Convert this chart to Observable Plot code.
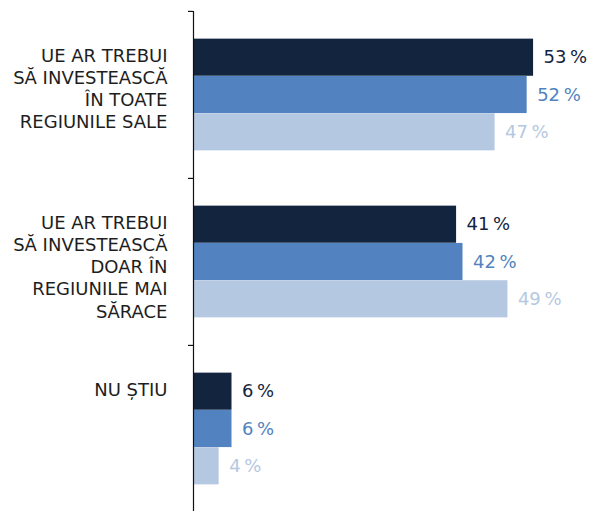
<!DOCTYPE html>
<html>
<head>
<meta charset="utf-8">
<script src="https://cdn.jsdelivr.net/npm/d3@7"></script>
<script src="https://cdn.jsdelivr.net/npm/@observablehq/plot@0.6"></script>
<style>
  html, body { margin: 0; padding: 0; background: #fff; }
  #chart svg { display: block; }
</style>
</head>
<body>
<div id="chart"></div>
<script>
const categories = [
  "UE AR TREBUI\nSĂ INVESTEASCĂ\nÎN TOATE\nREGIUNILE SALE",
  "UE AR TREBUI\nSĂ INVESTEASCĂ\nDOAR ÎN\nREGIUNILE MAI\nSĂRACE",
  "NU ȘTIU"
];
const series = ["Seria 1", "Seria 2", "Seria 3"];
const valuesSeries1 = [53, 41, 6];
const valuesSeries2 = [52, 42, 6];
const valuesSeries3 = [47, 49, 4];
const colors = ["#13243e", "#5283c0", "#b5c8e1"];

const allValues = [valuesSeries1, valuesSeries2, valuesSeries3];
const data = [];
series.forEach((s, si) => categories.forEach((c, ci) => data.push({series: s, si, category: c, value: allValues[si][ci]})));

const W = 600, H = 511, mTop = 11, mLeft = 193, mRight = 22;
const yEnd = 512.5;
const band = (yEnd - mTop) / categories.length;
const barH = 37.3;
const inset = (band - barH) / 2;
const font = "'DejaVu Sans', sans-serif";

const marks = [];
series.forEach((s, si) => {
  const sub = data.filter(d => d.si === si);
  const off = (si - 1) * barH;
  marks.push(Plot.barX(sub, {x: "value", y: "category", fill: colors[si], insetTop: inset + off, insetBottom: inset - off}));
  marks.push(Plot.text(sub, {x: "value", y: "category", dy: off, dx: 10, textAnchor: "start", text: d => d.value + "\u2009%", fill: colors[si], fontSize: 18, fontWeight: 400}));
});
marks.push(Plot.ruleX([0], {stroke: "#111", strokeWidth: 1.2}));
marks.push(Plot.ruleY(categories, {y: d => d, x1: 0, x2: 0, insetLeft: -5, dy: -band / 2, stroke: "#111", strokeWidth: 1.2}));
marks.push(Plot.text(categories, {y: d => d, x: 0, text: d => d, dx: -26, dy: -49, textAnchor: "end", lineAnchor: "top", lineHeight: 1.235, fontSize: 18, fontWeight: 400, fill: "#1e1e1e"}));

const chart = Plot.plot({
  width: W, height: H,
  marginTop: mTop, marginBottom: 0, marginLeft: mLeft, marginRight: mRight,
  style: {fontFamily: font, background: "#fff"},
  x: {domain: [0, 60], axis: null},
  y: {domain: categories, padding: 0, range: [mTop, yEnd], axis: null},
  marks
});
document.getElementById("chart").append(chart);
</script>
</body>
</html>
